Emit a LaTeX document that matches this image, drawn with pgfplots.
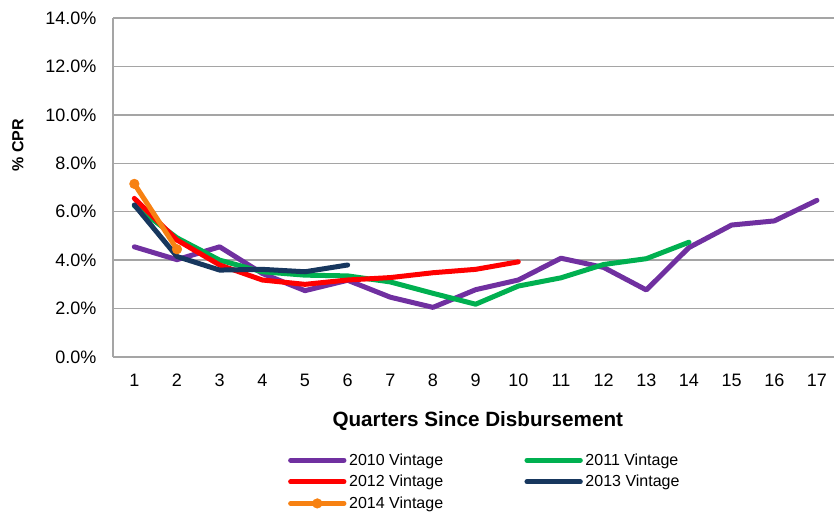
\documentclass[border=0pt]{standalone}
\usepackage{pgfplots}
\pgfplotsset{compat=1.18}
\usepackage{fontspec}
\setmainfont{Liberation Sans}
\definecolor{c2010}{HTML}{7030A0}
\definecolor{c2011}{HTML}{00B050}
\definecolor{c2012}{HTML}{FF0000}
\definecolor{c2013}{HTML}{17375E}
\definecolor{c2014}{HTML}{F78112}
\definecolor{gridc}{RGB}{165,165,165}
\begin{document}
\begin{tikzpicture}
\useasboundingbox (0,0) rectangle (625.5pt,383.25pt);
\begin{axis}[
  at={(84.75pt,115.5pt)}, anchor=south west,
  width=540.75pt, height=254.25pt, scale only axis,
  xmin=0.5, xmax=17.4, ymin=0, ymax=14,
  xtick={1,...,17}, ytick={0,2,...,14},
  major tick length=0pt,
  axis lines*=left,
  axis line style={gridc, line width=1.1pt, -},
  ymajorgrids, grid style={gridc, line width=1.1pt},
  /pgf/number format/assume math mode=true,
  yticklabel={\pgfmathprintnumber[fixed,fixed zerofill,precision=1]{\tick}\%},
  ticklabel style={font=\fontsize{13.5}{15}\selectfont},
  xticklabel style={yshift=-9pt},
  yticklabel style={xshift=-9pt},
  xlabel={Quarters Since Disbursement},
  xlabel style={font=\bfseries\fontsize{15.5}{17}\selectfont, at={(axis description cs:0.506,-0.188)}, anchor=center},
  ylabel={\% CPR},
  ylabel style={font=\bfseries\fontsize{12}{14}\selectfont, at={(axis description cs:-0.132,0.625)}, anchor=center, rotate=0},
  legend columns=2,
  legend cell align=left,
  legend style={draw=none, fill=none, at={(0.237,-0.268)}, anchor=north west,
    font=\fontsize{12}{14}\selectfont, row sep=2pt,
    /tikz/every even column/.append style={column sep=59pt}},
  legend image code/.code={\draw[mark repeat=2,mark phase=2,#1] plot coordinates {(0pt,0pt) (20pt,0pt) (40pt,0pt)};},
  every axis plot/.append style={line width=3.75pt, line join=round, line cap=round},
]
\addplot[c2010, mark=none] coordinates {
 (1,4.55) (2,4.02) (3,4.55) (4,3.45) (5,2.74) (6,3.17) (7,2.47) (8,2.05) (9,2.78) (10,3.18)
 (11,4.08) (12,3.70) (13,2.77) (14,4.52) (15,5.45) (16,5.62) (17,6.47)};
\addlegendentry{2010 Vintage}
\addplot[c2011, mark=none] coordinates {
 (1,6.25) (2,4.92) (3,4.00) (4,3.52) (5,3.38) (6,3.35) (7,3.10) (8,2.63) (9,2.18) (10,2.93)
 (11,3.27) (12,3.82) (13,4.06) (14,4.74)};
\addlegendentry{2011 Vintage}
\addplot[c2012, mark=none] coordinates {
 (1,6.55) (2,4.83) (3,3.80) (4,3.18) (5,3.00) (6,3.18) (7,3.28) (8,3.48) (9,3.62) (10,3.93)};
\addlegendentry{2012 Vintage}
\addplot[c2013, mark=none] coordinates {
 (1,6.28) (2,4.15) (3,3.59) (4,3.62) (5,3.52) (6,3.80)};
\addlegendentry{2013 Vintage}
\addplot[c2014, mark=*, mark size=3.6pt, mark options={solid, fill=c2014, draw=c2014, line width=0.4pt}] coordinates {
 (1,7.15) (2,4.45)};
\addlegendentry{2014 Vintage}
\end{axis}
\end{tikzpicture}
\end{document}
